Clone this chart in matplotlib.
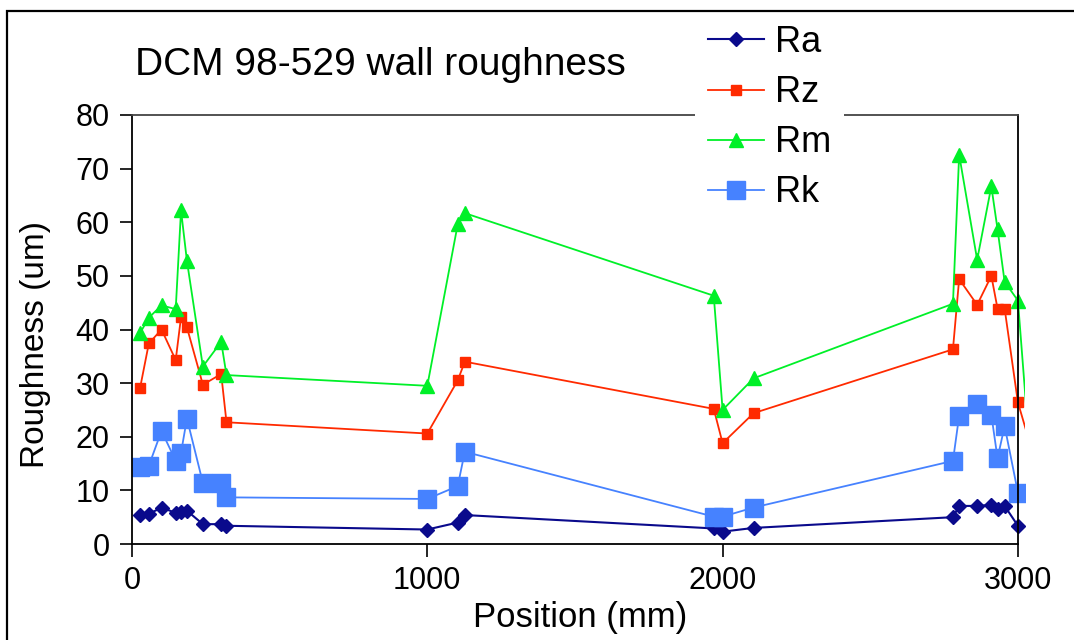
"""
DCM 98-529 wall roughness: Ra / Rz / Rm / Rk along the wall position.
"""

import matplotlib
matplotlib.use("Agg")
import matplotlib.pyplot as plt
from matplotlib.patches import Rectangle

plt.rcParams["font.family"] = ["Liberation Sans", "DejaVu Sans"]

# ── Data ──────────────────────────────────────────────────────────────────────
position = [27, 57, 100, 148, 166, 186, 240, 302, 320,
            1000, 1103, 1127,
            1970, 2000, 2105,
            2780, 2801, 2862, 2910, 2931, 2955, 3000]

ra = [5.4, 5.6, 6.8, 5.8, 6.0, 6.2, 3.7, 3.7, 3.4,
      2.7, 4.0, 5.4,
      2.9, 2.3, 3.0,
      5.0, 7.1, 7.1, 7.3, 6.5, 7.1, 3.4]

rz = [29.0, 37.4, 40.0, 34.3, 42.3, 40.4, 29.7, 31.7, 22.7,
      20.6, 30.5, 34.0,
      25.2, 18.8, 24.4,
      36.3, 49.4, 44.6, 50.0, 43.9, 43.9, 26.4]

rm = [39.3, 42.2, 44.5, 43.8, 62.2, 52.8, 33.1, 37.7, 31.5,
      29.5, 59.6, 61.7,
      46.3, 25.0, 30.9,
      44.8, 72.6, 53.0, 66.7, 58.7, 48.9, 45.4]

rk = [14.3, 14.6, 21.1, 15.5, 17.0, 23.4, 11.4, 11.4, 8.7,
      8.4, 10.8, 17.2,
      5.1, 5.1, 6.8,
      15.5, 23.9, 26.1, 24.1, 16.0, 22.0, 9.6]

# Rz and Rm carry on past 3000 mm (only the start of that segment shows)
tail_position = 3050
rz_tail = 17.0
rm_tail = 10.0

SERIES = [
    ("Ra", position, ra, "#0a0a8c", "D", 7.5, 1.5),
    ("Rz", position + [tail_position], rz + [rz_tail], "#ff2a00", "s", 7, 1.3),
    ("Rm", position + [tail_position], rm + [rm_tail], "#00f028", "^", 9.5, 1.3),
    ("Rk", position, rk, "#4682ff", "s", 13, 1.3),
]

# ── Figure ────────────────────────────────────────────────────────────────────
W, H = 1074, 640
fig = plt.figure(figsize=(W / 100, H / 100), dpi=100)
ax = fig.add_axes([132 / W, 96 / H, (1025 - 132) / W, 429 / H])

for name, xs, ys, color, marker, ms, lw in SERIES:
    ax.plot(xs, ys, color=color, marker=marker, markersize=ms,
            markeredgecolor=color, linewidth=lw, label=name)

ax.set_xlim(0, 3024)
ax.set_ylim(0, 80)
ax.set_xticks([0, 1000, 2000, 3000])
ax.set_yticks(range(0, 81, 10))
ax.tick_params(direction="out", length=9, width=1.2, labelsize=22,
               colors="black", pad=7)

# plot frame closes at 3000 mm, the lines run a little past it
for side in ["left", "bottom", "top", "right"]:
    ax.spines[side].set_linewidth(1.3)
    ax.spines[side].set_color("black")
ax.spines["bottom"].set_bounds(0, 3000)
ax.spines["top"].set_bounds(0, 3000)
ax.spines["top"].set_color("#444444")
ax.spines["right"].set_position(("data", 3000))

leg = ax.legend(loc="upper left", bbox_to_anchor=(695 / W, 1 - 12 / H),
                bbox_transform=fig.transFigure, fontsize=26,
                frameon=True, fancybox=False, facecolor="white",
                edgecolor="white", framealpha=1, borderpad=0.36,
                borderaxespad=0, handlelength=1.55, handletextpad=0.3,
                labelspacing=0.42)
leg.get_frame().set_linewidth(0)

fig.text(135 / W, 1 - 65 / H, "DCM 98-529 wall roughness",
         ha="left", va="center", fontsize=28)
fig.text(580 / W, 1 - 617 / H, "Position (mm)",
         ha="center", va="center", fontsize=25)
fig.text(36 / W, 1 - 345 / H, "Roughness (um)", rotation=90,
         ha="center", va="center", fontsize=24)

# outer chart border (left and top edges visible)
fig.patches.append(Rectangle((7 / W, -0.1), 1.2, (1 - 11 / H) + 0.1,
                             transform=fig.transFigure, fill=False,
                             edgecolor="black", linewidth=1.6))

plt.savefig("out.png", dpi=100)
